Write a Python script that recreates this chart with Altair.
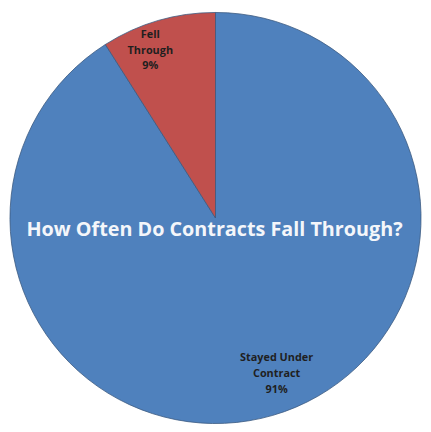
import altair as alt
import pandas as pd

categories = ["Stayed Under Contract", "Fell Through"]
values = [91, 9]
labels = ["Stayed Under\nContract\n91%", "Fell\nThrough\n9%"]
colors = ["#4F81BD", "#C0504D"]
title_text = "How Often Do Contracts Fall Through?"

df = pd.DataFrame({"category": categories, "value": values, "label": labels, "order": [0, 1]})

W = 415
H = 416
CX = 208
CY = 208
R = 208

theta_scale = alt.Scale(domain=[0, 100])

pie = alt.Chart(df).mark_arc(stroke="#3b5a80", strokeWidth=0.8, x=CX, y=CY, outerRadius=R).encode(
    theta=alt.Theta("value:Q", stack=True, scale=theta_scale),
    order=alt.Order("order:Q"),
    color=alt.Color("category:N", scale=alt.Scale(domain=categories, range=colors), legend=None),
)

text_base = alt.Chart(df).transform_stack(
    stack="value", groupby=[], as_=["v0", "v1"], sort=[alt.SortField("order", order="ascending")]
).transform_calculate(mid="(datum.v0 + datum.v1) / 2")

text_style = dict(x=CX, y=CY, lineBreak="\n", font="Open Sans", fontSize=11,
                  fontWeight="bold", color="#1f1f1f", lineHeight=16)

text_red = text_base.transform_filter(alt.datum.order == 1).mark_text(
    radius=190, dx=-13, dy=-3, **text_style
).encode(theta=alt.Theta("mid:Q", scale=theta_scale), text="label:N")

text_blue = text_base.transform_filter(alt.datum.order == 0).mark_text(
    radius=150, dx=20, dy=-2, **text_style
).encode(theta=alt.Theta("mid:Q", scale=theta_scale), text="label:N")

title_df = pd.DataFrame({"t": [title_text]})
title = alt.Chart(title_df).mark_text(
    font="Open Sans", fontSize=20, fontWeight="bold", color="#F4F6FA",
    align="center", baseline="middle",
).encode(text="t:N", x=alt.value(CX - 1), y=alt.value(CY + 12))

chart = alt.layer(pie, text_red, text_blue, title).properties(
    width=W, height=H, padding=0,
).configure_view(stroke=None)

chart.save("out.html", embed_options={"renderer": "svg", "actions": False})
